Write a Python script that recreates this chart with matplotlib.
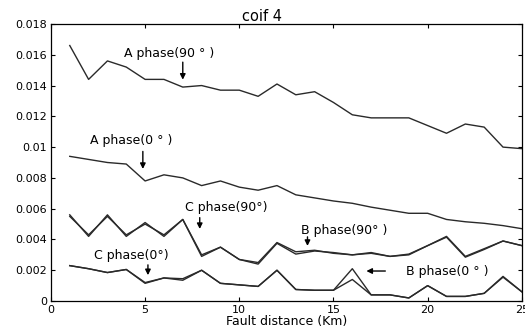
import numpy as np
import matplotlib.pyplot as plt

plt.rcParams['font.family'] = ['DejaVu Sans']

# fault distance (km)
dist = np.arange(1, 26)

# coif 4 wavelet energy per phase / inception angle
a90 = [0.0166, 0.0144, 0.0156, 0.0152, 0.0144, 0.0144, 0.0139, 0.0140, 0.0137, 0.0137,
       0.0133, 0.0141, 0.0134, 0.0136, 0.0129, 0.0121, 0.0119, 0.0119, 0.0119, 0.0114,
       0.0109, 0.0115, 0.0113, 0.0100, 0.0099]
a0 = [0.0094, 0.0092, 0.0090, 0.0089, 0.0078, 0.0082, 0.0080, 0.0075, 0.0078, 0.0074,
      0.0072, 0.0075, 0.0069, 0.0067, 0.0065, 0.00635, 0.0061, 0.0059, 0.0057, 0.0057,
      0.0053, 0.00515, 0.00505, 0.0049, 0.0047]
c90 = [0.0056, 0.0042, 0.0056, 0.0042, 0.0051, 0.0042, 0.0053, 0.0029, 0.0035, 0.0027,
       0.0024, 0.00375, 0.00305, 0.00325, 0.00315, 0.0030, 0.00315, 0.0029, 0.00305, 0.0036,
       0.00415, 0.00285, 0.00335, 0.0039, 0.0036]
b90 = [0.0055, 0.0043, 0.0055, 0.0043, 0.0050, 0.0043, 0.0053, 0.0030, 0.0035, 0.0027,
       0.0025, 0.0038, 0.0032, 0.0033, 0.0031, 0.0030, 0.0031, 0.0029, 0.0030, 0.0036,
       0.0042, 0.0029, 0.0034, 0.0039, 0.0036]
c0 = [0.0023, 0.0021, 0.00185, 0.00205, 0.00115, 0.0015, 0.00135, 0.0020, 0.00115, 0.00105,
      0.00095, 0.0020, 0.00075, 0.0007, 0.0007, 0.0014, 0.0004, 0.0004, 0.0002, 0.0010,
      0.0003, 0.0003, 0.0005, 0.00155, 0.0006]
b0 = [0.0023, 0.0021, 0.00185, 0.00205, 0.0012, 0.0015, 0.00145, 0.0020, 0.00115, 0.00105,
      0.00095, 0.0020, 0.00075, 0.0007, 0.0007, 0.0021, 0.0004, 0.0004, 0.0002, 0.0010,
      0.0003, 0.0003, 0.0005, 0.0016, 0.0006]

fig = plt.figure(figsize=(5.25, 3.33), dpi=100)
ax = fig.add_axes([0.097, 0.096, 0.897, 0.832])

for series in [a90, a0, c90, b90, c0, b0]:
    ax.plot(dist, series, color='#2a2a2a', lw=1.0)

ax.set_xlim(0, 25)
ax.set_ylim(0, 0.018)
ax.set_xticks([0, 5, 10, 15, 20, 25])
ax.set_yticks(np.arange(0, 0.0181, 0.002))
ax.set_yticklabels(['0', '0.002', '0.004', '0.006', '0.008', '0.01',
                    '0.012', '0.014', '0.016', '0.018'])
ax.tick_params(direction='in', top=True, right=True, labelsize=8, length=3, pad=3)
for s in ax.spines.values():
    s.set_linewidth(0.9)

ax.set_title('coif 4', fontsize=10.5, pad=2, x=0.449)
ax.set_xlabel('Fault distance (Km)', fontsize=9, labelpad=0)

arrow = dict(arrowstyle='-|>', color='black', lw=1.0, mutation_scale=8)
tsize = 9

# downward arrows with labels above
ax.text(6.3, 0.0161, 'A phase(90 ° )', ha='center', va='center', fontsize=tsize)
ax.annotate('', xy=(7.0, 0.0142), xytext=(7.0, 0.0157), arrowprops=arrow)

ax.text(4.25, 0.0104, 'A phase(0 ° )', ha='center', va='center', fontsize=tsize)
ax.annotate('', xy=(4.88, 0.0084), xytext=(4.88, 0.0099), arrowprops=arrow)

ax.text(9.3, 0.0061, 'C phase(90°)', ha='center', va='center', fontsize=tsize)
ax.annotate('', xy=(7.9, 0.0045), xytext=(7.9, 0.0056), arrowprops=arrow)

ax.text(4.25, 0.00294, 'C phase(0°)', ha='center', va='center', fontsize=tsize)
ax.annotate('', xy=(5.15, 0.0015), xytext=(5.15, 0.00253), arrowprops=arrow)

ax.text(15.55, 0.0046, 'B phase(90° )', ha='center', va='center', fontsize=tsize)
ax.annotate('', xy=(13.62, 0.0034), xytext=(13.62, 0.00435), arrowprops=arrow)

ax.text(21.05, 0.00195, 'B phase(0 ° )', ha='center', va='center', fontsize=tsize)
ax.annotate('', xy=(16.6, 0.00195), xytext=(17.9, 0.00195), arrowprops=arrow)

plt.savefig('out.png', dpi=100)
